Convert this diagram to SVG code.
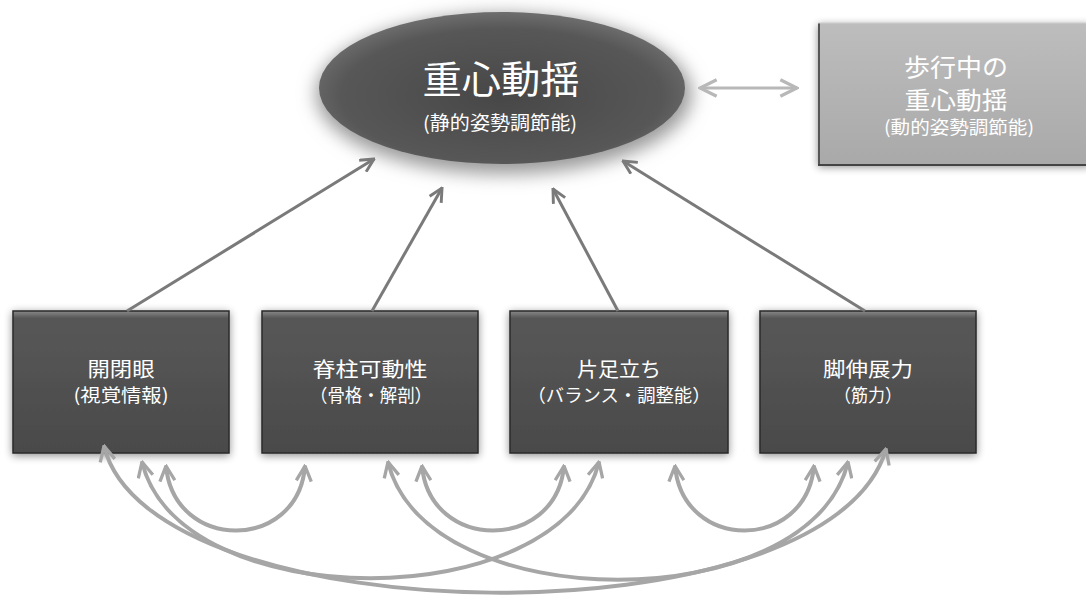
<svg xmlns="http://www.w3.org/2000/svg" width="1086" height="600" viewBox="0 0 1086 600">
  <defs>
    <style>
      .t { font-family: "Noto Sans CJK JP", "Noto Sans CJK SC", sans-serif; fill: #ffffff; text-anchor: middle; }
      .box { fill: url(#boxGrad); stroke: #2a2a2a; stroke-width: 1.5; filter: url(#glow); }
      .up { fill: none; stroke: #7a7a7a; stroke-width: 3; marker-end: url(#headDark); }
      .curve { fill: none; stroke: #a6a6a6; stroke-width: 4; marker-start: url(#headLight); marker-end: url(#headLight); }
    </style>
    <linearGradient id="boxGrad" x1="0" y1="0" x2="0" y2="1">
      <stop offset="0" stop-color="#8a8a8a"/>
      <stop offset="0.05" stop-color="#575757"/>
      <stop offset="1" stop-color="#4a4a4a"/>
    </linearGradient>
    <radialGradient id="ellGrad" cx="0.5" cy="0.55" r="0.55">
      <stop offset="0" stop-color="#474747"/>
      <stop offset="0.8" stop-color="#575757"/>
      <stop offset="1" stop-color="#6e6e6e"/>
    </radialGradient>
    <linearGradient id="rbGrad" x1="0" y1="0" x2="0" y2="1">
      <stop offset="0" stop-color="#bdbdbd"/>
      <stop offset="1" stop-color="#a9a9a9"/>
    </linearGradient>
    <filter id="glow" x="-10%" y="-10%" width="120%" height="125%">
      <feGaussianBlur in="SourceAlpha" stdDeviation="4"/>
      <feOffset dy="2"/>
      <feComponentTransfer><feFuncA type="linear" slope="0.45"/></feComponentTransfer>
      <feMerge><feMergeNode/><feMergeNode in="SourceGraphic"/></feMerge>
    </filter>
    <filter id="halo" x="-20%" y="-30%" width="140%" height="170%">
      <feGaussianBlur stdDeviation="9"/>
    </filter>
    <marker id="headDark" viewBox="0 0 12 12" refX="11" refY="6" markerWidth="16" markerHeight="16" markerUnits="userSpaceOnUse" orient="auto">
      <path d="M1,1 L11,6 L1,11" fill="none" stroke="#7a7a7a" stroke-width="2.2"/>
    </marker>
    <marker id="headLight" viewBox="0 0 12 12" refX="11" refY="6" markerWidth="18" markerHeight="18" markerUnits="userSpaceOnUse" orient="auto-start-reverse">
      <path d="M1,1 L11,6 L1,11" fill="none" stroke="#a6a6a6" stroke-width="2.2"/>
    </marker>
    <marker id="headPale" viewBox="0 0 12 12" refX="11" refY="6" markerWidth="20" markerHeight="20" markerUnits="userSpaceOnUse" orient="auto-start-reverse">
      <path d="M1,1 L11,6 L1,11" fill="none" stroke="#b8b8b8" stroke-width="2"/>
    </marker>
  </defs>

  <rect width="1086" height="600" fill="#ffffff"/>

  <g id="node-main">
    <ellipse cx="504" cy="94" rx="188" ry="80" fill="#9a9a9a" filter="url(#halo)"/>
    <ellipse cx="502" cy="88" rx="183" ry="76" fill="url(#ellGrad)"/>
    <text class="t" x="501" y="93" font-size="38" textLength="157" lengthAdjust="spacingAndGlyphs">重心動揺</text>
    <text class="t" x="500" y="130" font-size="19" textLength="154" lengthAdjust="spacingAndGlyphs">(静的姿勢調節能)</text>
  </g>

  <g id="node-gait">
    <rect x="818" y="23" width="272" height="142" fill="url(#rbGrad)" filter="url(#glow)"/>
    <line x1="819" y1="23" x2="819" y2="165" stroke="#555" stroke-width="2"/>
    <line x1="818" y1="165" x2="1086" y2="165" stroke="#444" stroke-width="2"/>
    <line x1="818" y1="23" x2="1086" y2="23" stroke="#d0d0d0" stroke-width="1"/>
    <text class="t" x="956" y="76" font-size="24" textLength="104" lengthAdjust="spacingAndGlyphs">歩行中の</text>
    <text class="t" x="956" y="109" font-size="24" textLength="103" lengthAdjust="spacingAndGlyphs">重心動揺</text>
    <text class="t" x="959" y="134" font-size="18" textLength="150" lengthAdjust="spacingAndGlyphs">(動的姿勢調節能)</text>
  </g>

  <g id="node-eyes">
    <rect class="box" x="13" y="311" width="216" height="142"/>
    <text class="t" x="121" y="377" font-size="20" textLength="67" lengthAdjust="spacingAndGlyphs">開閉眼</text>
    <text class="t" x="121" y="402" font-size="18" textLength="95" lengthAdjust="spacingAndGlyphs">(視覚情報)</text>
  </g>
  <g id="node-spine">
    <rect class="box" x="262" y="311" width="216" height="142"/>
    <text class="t" x="370" y="377" font-size="20" textLength="115" lengthAdjust="spacingAndGlyphs">脊柱可動性</text>
    <text class="t" x="371" y="402" font-size="18" textLength="122" lengthAdjust="spacingAndGlyphs">（骨格・解剖）</text>
  </g>
  <g id="node-balance">
    <rect class="box" x="510" y="311" width="218" height="142"/>
    <text class="t" x="619" y="377" font-size="20" textLength="84" lengthAdjust="spacingAndGlyphs">片足立ち</text>
    <text class="t" x="619" y="402" font-size="18" textLength="183" lengthAdjust="spacingAndGlyphs">（バランス・調整能）</text>
  </g>
  <g id="node-leg">
    <rect class="box" x="760" y="311" width="216" height="142"/>
    <text class="t" x="868" y="377" font-size="20" textLength="90" lengthAdjust="spacingAndGlyphs">脚伸展力</text>
    <text class="t" x="868" y="402" font-size="18" textLength="68" lengthAdjust="spacingAndGlyphs">（筋力）</text>
  </g>

  <g id="connectors">
    <line class="up" x1="127" y1="311" x2="374" y2="159"/>
    <line class="up" x1="372" y1="311" x2="442" y2="188"/>
    <line class="up" x1="618" y1="311" x2="553" y2="189"/>
    <line class="up" x1="865" y1="311" x2="623" y2="161"/>
    <line x1="700" y1="88" x2="797" y2="88" stroke="#b8b8b8" stroke-width="3" marker-start="url(#headPale)" marker-end="url(#headPale)"/>

    <path class="curve" d="M166,466 C174,552 298,552 305,466"/>
    <path class="curve" d="M422,466 C430,552 556,552 564,466"/>
    <path class="curve" d="M675,466 C683,552 806,552 814,466"/>
    <path class="curve" d="M142,462 C180,617 560,617 599,462"/>
    <path class="curve" d="M388,462 C426,619 810,619 848,462"/>
    <path class="curve" d="M104,446 C150,636 830,646 886,449"/>
  </g>
</svg>
